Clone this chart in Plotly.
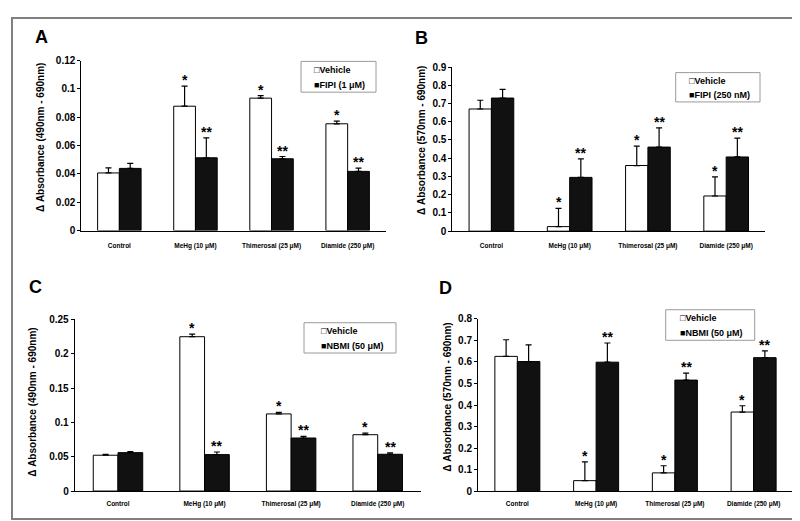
import plotly.graph_objects as go

W, H = 800, 521

# ---------------- data ----------------
categories = ["Control", "MeHg (10 μM)", "Thimerosal (25 μM)", "Diamide (250 μM)"]

A_vehicle = [0.0407, 0.0878, 0.0935, 0.0754]
A_vehicle_err = [0.0036, 0.0142, 0.0018, 0.0019]
A_fipi = [0.0439, 0.0514, 0.0507, 0.0418]
A_fipi_err = [0.0036, 0.0140, 0.0016, 0.0023]

B_vehicle = [0.670, 0.025, 0.360, 0.193]
B_vehicle_err = [0.048, 0.100, 0.106, 0.105]
B_fipi = [0.730, 0.295, 0.461, 0.407]
B_fipi_err = [0.048, 0.101, 0.105, 0.103]

C_vehicle = [0.0522, 0.2249, 0.1124, 0.0821]
C_vehicle_err = [0.0014, 0.0038, 0.0024, 0.0023]
C_nbmi = [0.0560, 0.0531, 0.0773, 0.0536]
C_nbmi_err = [0.0014, 0.0038, 0.0024, 0.0019]

D_vehicle = [0.626, 0.050, 0.086, 0.368]
D_vehicle_err = [0.077, 0.087, 0.033, 0.029]
D_nbmi = [0.602, 0.599, 0.516, 0.620]
D_nbmi_err = [0.077, 0.089, 0.032, 0.031]

vehicle_marks = ["", "*", "*", "*"]
treated_marks = ["", "**", "**", "**"]

FONT = "Liberation Sans, Arial, sans-serif"
BARGAP = 1.5 / 3.5

panels = [
    dict(letter="A", veh=A_vehicle, veh_err=A_vehicle_err, trt=A_fipi, trt_err=A_fipi_err,
         trt_name="FIPI (1 μM)", ymax=0.12, dtick=0.02, title="Δ Absorbance (490nm - 690nm)",
         dom_x=(73.3, 377.7), dom_y=(47.7, 221.7), letter_xy=(33.5, 24), title_xy=(32, 127),
         leg_box=(293, 48.5, 368, 80), leg_rows=(57, 73), leg_x=304, standoff=9),
    dict(letter="B", veh=B_vehicle, veh_err=B_vehicle_err, trt=B_fipi, trt_err=B_fipi_err,
         trt_name="FIPI (250 nM)", ymax=0.9, dtick=0.1, title="Δ Absorbance (570nm - 690nm)",
         dom_x=(444.3, 757.3), dom_y=(54.3, 222.3), letter_xy=(413, 25), title_xy=(413, 130),
         leg_box=(667.7, 60, 752, 90), leg_rows=(68.5, 82.5), leg_x=678.5, standoff=8),
    dict(letter="C", veh=C_vehicle, veh_err=C_vehicle_err, trt=C_nbmi, trt_err=C_nbmi_err,
         trt_name="NBMI (50 μM)", ymax=0.25, dtick=0.05, title="Δ Absorbance (490nm - 690nm)",
         dom_x=(66.7, 413), dom_y=(312.7, 488.3), letter_xy=(27.7, 279), title_xy=(25, 398),
         leg_box=(296, 316, 388, 347), leg_rows=(324.5, 340), leg_x=311, standoff=6),
    dict(letter="D", veh=D_vehicle, veh_err=D_vehicle_err, trt=D_nbmi, trt_err=D_nbmi_err,
         trt_name="NBMI (50 μM)", ymax=0.8, dtick=0.1, title="Δ Absorbance (570nm - 690nm)",
         dom_x=(470, 785), dom_y=(312, 488.7), letter_xy=(437, 280), title_xy=(439.3, 392.5),
         leg_box=(657.7, 302.7, 746.7, 334), leg_rows=(311, 326.5), leg_x=669.5, standoff=6),
]


def px(x):
    return x / W


def py(y):
    return 1 - y / H


fig = go.Figure()
annotations = []
shapes = []
layout_axes = {}

bar_w = (1 - BARGAP) / 2

for i, p in enumerate(panels, start=1):
    xa = "x" if i == 1 else f"x{i}"
    ya = "y" if i == 1 else f"y{i}"
    fig.add_trace(go.Bar(
        x=categories, y=p["veh"], name="Vehicle", xaxis=xa, yaxis=ya, offsetgroup="v",
        marker=dict(color="white", line=dict(color="black", width=1)),
        error_y=dict(type="data", symmetric=False, array=p["veh_err"], arrayminus=[0] * 4,
                     color="black", thickness=1.2, width=3),
        showlegend=False))
    fig.add_trace(go.Bar(
        x=categories, y=p["trt"], name=p["trt_name"], xaxis=xa, yaxis=ya, offsetgroup="t",
        marker=dict(color="#111111", line=dict(color="black", width=1)),
        error_y=dict(type="data", symmetric=False, array=p["trt_err"], arrayminus=[0] * 4,
                     color="black", thickness=1.2, width=3),
        showlegend=False))

    xkey = "xaxis" if i == 1 else f"xaxis{i}"
    ykey = "yaxis" if i == 1 else f"yaxis{i}"
    layout_axes[xkey] = dict(
        domain=[px(p["dom_x"][0]), px(p["dom_x"][1])], anchor=ya, type="category",
        showline=True, linecolor="black", linewidth=1, ticks="", showgrid=False,
        tickfont=dict(family=FONT, size=6.5, color="black", weight="bold"),
        ticklabelstandoff=p["standoff"], range=[-0.5, 3.5])
    layout_axes[ykey] = dict(
        domain=[py(p["dom_y"][1]), py(p["dom_y"][0])], anchor=xa,
        range=[0, p["ymax"]], dtick=p["dtick"], tick0=0,
        showline=True, linecolor="black", linewidth=1, ticks="outside", ticklen=3,
        tickcolor="black", showgrid=False, zeroline=False,
        tickfont=dict(family=FONT, size=10, color="black", weight="bold"))

    # significance marks
    for j in range(len(categories)):
        for vals, errs, marks, off in ((p["veh"], p["veh_err"], vehicle_marks, -bar_w / 2),
                                       (p["trt"], p["trt_err"], treated_marks, bar_w / 2)):
            if marks[j]:
                annotations.append(dict(
                    x=j + off, y=vals[j] + errs[j], xref=xa, yref=ya, text=marks[j],
                    showarrow=False, yanchor="bottom", xanchor="center", yshift=-4,
                    font=dict(family=FONT, size=14, color="black", weight="bold")))

    # panel letter
    annotations.append(dict(x=px(p["letter_xy"][0]), y=py(p["letter_xy"][1]), xref="paper",
                            yref="paper", text=p["letter"], showarrow=False,
                            xanchor="center", yanchor="middle",
                            font=dict(family=FONT, size=18, color="black", weight="bold")))
    # y title
    annotations.append(dict(x=px(p["title_xy"][0]), y=py(p["title_xy"][1]), xref="paper",
                            yref="paper", text=p["title"], showarrow=False, textangle=-90,
                            xanchor="center", yanchor="middle",
                            font=dict(family=FONT, size=10, color="black", weight="bold")))
    # legend box
    x0, y0, x1, y1 = p["leg_box"]
    shapes.append(dict(type="rect", xref="paper", yref="paper", x0=px(x0), x1=px(x1),
                       y0=py(y1), y1=py(y0), line=dict(color="#9a9a9a", width=1),
                       fillcolor="white", layer="above"))
    for row_y, txt in zip(p["leg_rows"], ["□Vehicle", "■" + p["trt_name"]]):
        annotations.append(dict(x=px(p["leg_x"]), y=py(row_y), xref="paper", yref="paper",
                                text=txt, showarrow=False, xanchor="left", yanchor="middle",
                                font=dict(family=FONT, size=9, color="black", weight="bold")))

# outer frame
shapes.append(dict(type="rect", xref="paper", yref="paper", x0=px(4), x1=px(797),
                   y0=py(517), y1=py(4), line=dict(color="#808080", width=2)))

fig.update_layout(
    width=W, height=H, margin=dict(l=0, r=0, t=0, b=0),
    paper_bgcolor="white", plot_bgcolor="white",
    barmode="group", bargap=BARGAP, bargroupgap=0,
    annotations=annotations, shapes=shapes, showlegend=False,
    **layout_axes)

fig.write_html("out.html")
